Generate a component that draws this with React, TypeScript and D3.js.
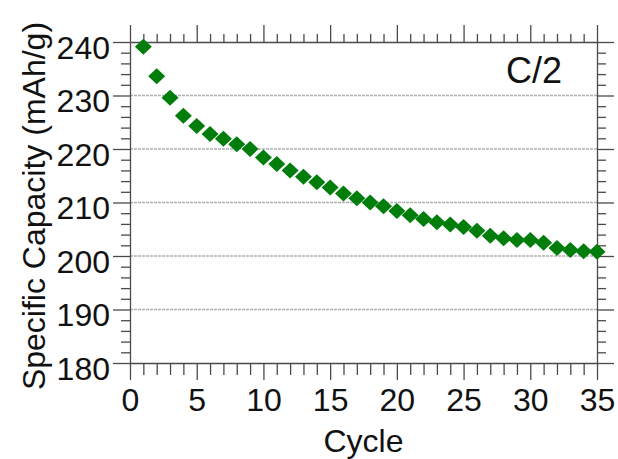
import React, { useEffect, useRef } from "react";
import * as d3 from "d3";

const cycles = [1,2,3,4,5,6,7,8,9,10,11,12,13,14,15,16,17,18,19,20,21,22,23,24,25,26,27,28,29,30,31,32,33,34,35];
const capacity = [239.1,233.6,229.6,226.2,224.3,222.8,221.9,220.9,220.0,218.4,217.2,216.0,214.8,213.8,212.8,211.7,210.8,210.0,209.3,208.4,207.6,206.9,206.3,205.9,205.4,204.7,203.8,203.3,203.0,203.0,202.5,201.5,201.1,200.9,200.8];
const xTicks = [0,5,10,15,20,25,30,35];
const yTicks = [180,190,200,210,220,230,240];
const gridValues = [190,200,210,220,230];
const xTitle = "Cycle";
const yTitle = "Specific Capacity (mAh/g)";
const rateLabel = "C/2";

const W = 618, H = 459;
const L = 130, R = 597, T = 42, B = 363;
const FONT = "'Liberation Sans', Arial, sans-serif";
const AXC = "#4a4a4a";

export default function App() {
  const ref = useRef<SVGSVGElement>(null);
  useEffect(() => {
    const svg = d3.select(ref.current);
    svg.selectAll("*").remove();
    const x = d3.scaleLinear().domain([0, 35]).range([L, R]);
    const y = d3.scaleLinear().domain([180, 240]).range([B, T]);
    const xMinor = d3.range(0, 36).filter((v) => v % 5 !== 0);
    const yMinor = d3.range(180, 241, 2).filter((v) => v % 10 !== 0);

    // grid
    svg.append("g").selectAll("line").data(gridValues).join("line")
      .attr("x1", L).attr("x2", R).attr("y1", (d) => y(d)).attr("y2", (d) => y(d))
      .attr("stroke", "#b0b0b0").attr("stroke-width", 1.3).attr("stroke-dasharray", "3,1");

    const style = (g: any, keepDomain: boolean) => {
      if (!keepDomain) g.select(".domain").remove();
      g.select(".domain").attr("stroke", AXC).attr("stroke-width", 1.3);
      g.selectAll(".tick line").attr("stroke", AXC).attr("stroke-width", 1.3);
      g.selectAll("text").attr("fill", "#111").attr("font-size", 32).attr("font-family", FONT);
    };

    // left
    svg.append("g").attr("transform", `translate(${L},0)`)
      .call(d3.axisLeft(y).tickValues(yMinor).tickSize(9).tickFormat(() => ""))
      .call((g: any) => style(g, false));
    svg.append("g").attr("transform", `translate(${L},0)`)
      .call(d3.axisLeft(y).tickValues(yTicks).tickSize(17).tickSizeOuter(0).tickPadding(3).tickFormat(d3.format("d")))
      .call((g: any) => { style(g, true); g.selectAll("text").attr("dy", "0.5em"); });
    // right
    svg.append("g").attr("transform", `translate(${R},0)`)
      .call(d3.axisRight(y).tickValues(yMinor).tickSize(9).tickFormat(() => ""))
      .call((g: any) => style(g, false));
    svg.append("g").attr("transform", `translate(${R},0)`)
      .call(d3.axisRight(y).tickValues(yTicks).tickSize(17).tickSizeOuter(0).tickFormat(() => ""))
      .call((g: any) => style(g, true));
    // top
    svg.append("g").attr("transform", `translate(0,${T})`)
      .call(d3.axisTop(x).tickValues(xMinor).tickSize(8).tickFormat(() => ""))
      .call((g: any) => style(g, false));
    svg.append("g").attr("transform", `translate(0,${T})`)
      .call(d3.axisTop(x).tickValues(xTicks).tickSize(17).tickSizeOuter(0).tickFormat(() => ""))
      .call((g: any) => style(g, true));
    // bottom
    svg.append("g").attr("transform", `translate(0,${B})`)
      .call(d3.axisBottom(x).tickValues(xMinor).tickSize(12).tickFormat(() => ""))
      .call((g: any) => style(g, false));
    svg.append("g").attr("transform", `translate(0,${B})`)
      .call(d3.axisBottom(x).tickValues(xTicks).tickSize(17).tickSizeOuter(0).tickPadding(8).tickFormat(d3.format("d")))
      .call((g: any) => style(g, true));

    // points
    const hw = 8.5, hh = 8;
    const diamond = `M0,${-hh}L${hw},0L0,${hh}L${-hw},0Z`;
    svg.append("g").selectAll("path").data(cycles.map((c, i) => [c, capacity[i]]))
      .join("path")
      .attr("d", diamond)
      .attr("transform", (d) => `translate(${x(d[0])},${y(d[1])})`)
      .attr("fill", "#007d0a");

    // titles
    svg.append("text").attr("x", (L + R) / 2).attr("y", 452).attr("text-anchor", "middle")
      .attr("font-size", 32).attr("font-family", FONT).attr("fill", "#111").text(xTitle);
    svg.append("text").attr("transform", `translate(45,${206}) rotate(-90)`).attr("text-anchor", "middle")
      .attr("font-size", 32).attr("font-family", FONT).attr("fill", "#111").text(yTitle);
    svg.append("text").attr("x", 562).attr("y", 83).attr("text-anchor", "end")
      .attr("font-size", 36).attr("font-family", FONT).attr("fill", "#111").text(rateLabel);
  }, []);
  return (
    <svg ref={ref} width={W} height={H} style={{ position: "absolute", left: 0, top: 0, background: "#fff" }} />
  );
}
